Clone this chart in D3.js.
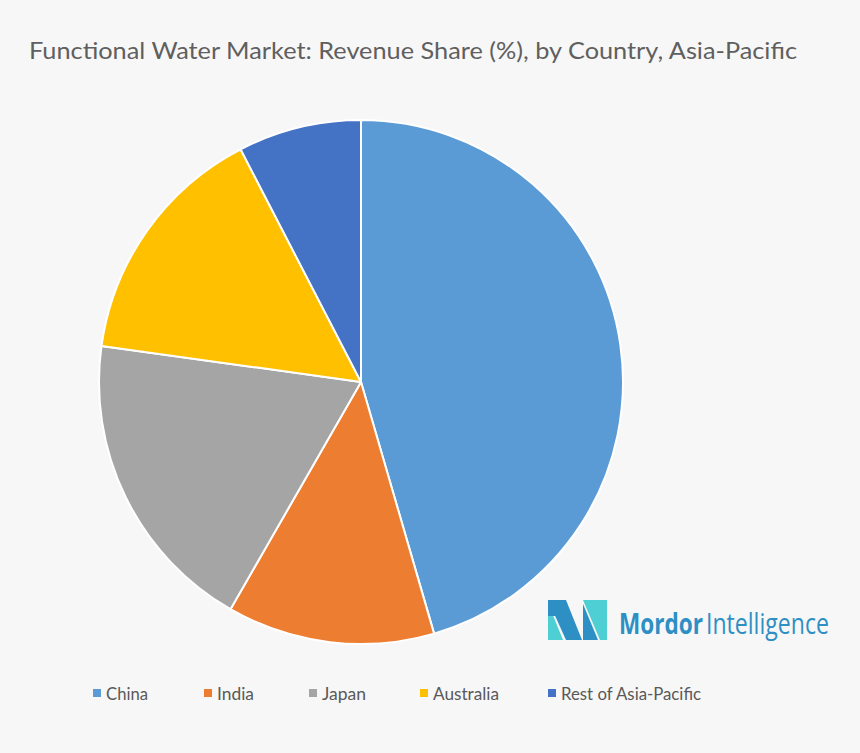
<!DOCTYPE html>
<html><head><meta charset="utf-8">
<script src="https://cdn.jsdelivr.net/npm/d3@7"></script>
<style>body{margin:0;background:#f7f7f7;}svg{display:block;}</style>
</head><body>
<svg id="chart" width="860" height="753"></svg>
<script>
const categories = ["China","India","Japan","Australia","Rest of Asia-Pacific"];
const shares = [45.5, 12.8, 18.9, 15.2, 7.6];
const colors = ["#5b9bd5","#ed7d31","#a5a5a5","#ffc000","#4472c4"];
const title = "Functional Water Market: Revenue Share (%), by Country, Asia-Pacific";

const svg = d3.select("#chart");
svg.append("rect").attr("width",860).attr("height",753).attr("fill","#f7f7f7");

svg.append("text").attr("x",29).attr("y",59).text(title)
  .attr("font-family","Lato, 'Open Sans', sans-serif").attr("font-size",23.5)
  .attr("fill","#5f5f5f").attr("textLength",768).attr("lengthAdjust","spacingAndGlyphs");

const cx = 361, cy = 382, r = 262;
const pie = d3.pie().sort(null).value(d=>d);
const arc = d3.arc().innerRadius(0).outerRadius(r);
const color = d3.scaleOrdinal().domain(categories).range(colors);
const g = svg.append("g").attr("transform",`translate(${cx},${cy})`);
g.selectAll("path").data(pie(shares)).join("path")
  .attr("d",arc).attr("fill",(d,i)=>color(categories[i]))
  .attr("stroke","#ffffff").attr("stroke-width",2).attr("stroke-linejoin","round");

// legend
const legendX = d3.scaleOrdinal().domain(categories).range([93,204,309,420,548]);
const legendW = {"China":42,"India":37,"Japan":44,"Australia":66,"Rest of Asia-Pacific":140};
const lg = svg.append("g");
categories.forEach(c=>{
  const x = legendX(c);
  lg.append("rect").attr("x",x).attr("y",689).attr("width",8).attr("height",8).attr("fill",color(c));
  lg.append("text").attr("x",x+13).attr("y",700).text(c)
    .attr("font-family","Lato, 'Open Sans', sans-serif").attr("font-size",16.5).attr("fill","#595959")
    .attr("textLength",legendW[c]).attr("lengthAdjust","spacingAndGlyphs");
});

// logo
const logo = svg.append("g");
const dark = "#2e8fc4", teal = "#4ecfd3";
logo.append("polygon").attr("points","548,600 566,600 582,640 566,640").attr("fill",dark);
logo.append("polygon").attr("points","548,603 563,640 548,640").attr("fill",teal);
logo.append("polygon").attr("points","548,600 555,600 555,616 548,616").attr("fill",dark);
logo.append("polygon").attr("points","583,600 607,600 607,640 600,640").attr("fill",teal);
logo.append("polygon").attr("points","583,604 598,640 583,640").attr("fill",dark);
function fitted(x, y, txt, weight, w){
  const t = logo.append("text").attr("x",0).attr("y",0)
    .attr("font-family","'Open Sans', sans-serif").attr("font-size",29).attr("font-weight",weight)
    .attr("fill","#2e8fc4").text(txt);
  const nat = t.node().getComputedTextLength();
  t.attr("transform",`translate(${x},${y}) scale(${w/nat},1)`);
}
fitted(619, 634, "Mordor", "bold", 84);
fitted(706, 634, "Intelligence", "normal", 123);
</script>
</body></html>
